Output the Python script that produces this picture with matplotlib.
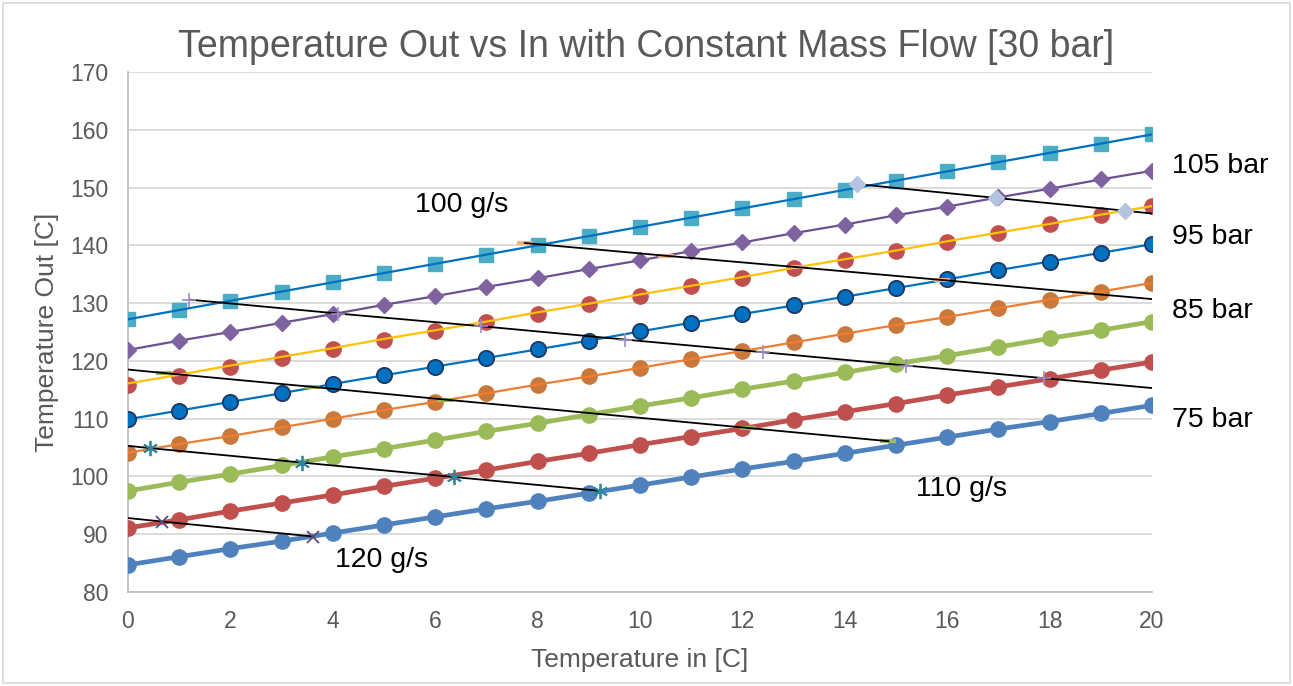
import numpy as np
import matplotlib.pyplot as plt
from matplotlib.patches import Rectangle

plt.rcParams['font.family'] = ['Liberation Sans', 'DejaVu Sans']

t_in = list(range(21))

# outlet temperature per pressure level
p75 = [84.7, 86.1, 87.5, 88.8, 90.2, 91.6, 93.0, 94.4, 95.7, 97.1, 98.5,
       99.9, 101.3, 102.6, 104.0, 105.4, 106.8, 108.2, 109.5, 110.9, 112.3]
p80 = [91.1, 92.5, 94.0, 95.4, 96.8, 98.3, 99.7, 101.1, 102.6, 104.0, 105.5,
       106.9, 108.3, 109.8, 111.2, 112.6, 114.1, 115.5, 116.9, 118.4, 119.8]
p85 = [97.5, 99.0, 100.4, 101.9, 103.4, 104.8, 106.3, 107.8, 109.2, 110.7, 112.2,
       113.6, 115.1, 116.5, 118.0, 119.5, 120.9, 122.4, 123.9, 125.3, 126.8]
p90 = [104.1, 105.6, 107.0, 108.5, 110.0, 111.5, 112.9, 114.4, 115.9, 117.3, 118.8,
       120.3, 121.7, 123.2, 124.7, 126.2, 127.6, 129.1, 130.6, 132.0, 133.5]
p95 = [109.9, 111.4, 112.9, 114.4, 116.0, 117.5, 119.0, 120.5, 122.0, 123.5, 125.1,
       126.6, 128.1, 129.6, 131.1, 132.6, 134.1, 135.7, 137.2, 138.7, 140.2]
p100 = [115.8, 117.4, 118.9, 120.5, 122.0, 123.6, 125.1, 126.7, 128.2, 129.8, 131.3,
        132.9, 134.4, 136.0, 137.5, 139.1, 140.6, 142.2, 143.7, 145.3, 146.8]
p100b = [116.1, 117.6, 119.2, 120.7, 122.2, 123.8, 125.3, 126.8, 128.4, 129.9, 131.5,
         133.0, 134.5, 136.1, 137.6, 139.1, 140.7, 142.2, 143.7, 145.3, 146.8]
p105 = [121.9, 123.5, 125.0, 126.6, 128.1, 129.7, 131.2, 132.8, 134.3, 135.9, 137.4,
        139.0, 140.5, 142.1, 143.6, 145.2, 146.7, 148.3, 149.8, 151.4, 152.9]
p110 = [127.2, 128.8, 130.4, 132.0, 133.6, 135.2, 136.8, 138.4, 140.0, 141.6, 143.2,
        144.8, 146.4, 148.0, 149.6, 151.2, 152.8, 154.4, 156.0, 157.6, 159.2]

# constant mass flow lines (x, y, which points carry a marker)
mA_x = [14.24, 16.96, 19.47, 20.0]
mA_y = [150.6, 148.2, 146.0, 145.5]
mB_x = [7.75, 10.5, 13.1, 15.9, 18.6, 20.0]
mB_y = [140.4, 138.2, 136.2, 134.0, 131.8, 130.7]
mC_x = [1.2, 4.1, 6.9, 9.7, 12.4, 15.2, 17.9, 20.0]
mC_y = [130.6, 128.2, 126.0, 123.7, 121.5, 119.2, 117.0, 115.3]
mD_x = [0.0, 0.7, 3.6, 6.2, 9.1, 12.1, 14.85]
mD_y = [118.5, 117.9, 115.5, 113.3, 110.9, 108.4, 106.1]
mE_x = [0.0, 0.43, 3.4, 6.37, 9.22]
mE_y = [105.3, 104.9, 102.4, 99.9, 97.5]
mF_x = [0.0, 0.66, 3.62]
mF_y = [92.8, 92.2, 89.6]

bar_labels = ['105 bar', '95 bar', '85 bar', '75 bar']
bar_label_y = [153.7, 141.4, 128.6, 109.8]
flow_labels = ['100 g/s', '110 g/s', '120 g/s']
flow_label_xy = [(5.6, 147.0), (15.4, 97.8), (4.05, 85.5)]

fig = plt.figure(figsize=(12.93, 6.86), dpi=100)
ax = fig.add_axes([128/1293, 94/686, 1024/1293, 520/686])

# thick series: markers on top of line
ax.plot(t_in, p75, color='#4F81BD', lw=3.4, marker='o', ms=11, mec='#4F81BD', zorder=3)
ax.plot(t_in, p80, color='#C0504D', lw=3.4, marker='o', ms=11, mec='#C0504D', zorder=3)
ax.plot(t_in, p85, color='#9BBB59', lw=3.4, marker='o', ms=11, mec='#9BBB59', zorder=3)

# orange: line drawn over the markers
ax.plot(t_in, p90, ls='none', marker='o', ms=11, mfc='#C8783A', mec='#C8783A', zorder=3)
ax.plot(t_in, p90, color='#ED7D31', lw=1.6, zorder=3.1)

ax.plot(t_in, p95, color='#0070C0', lw=1.6, marker='o', ms=11, mfc='#0070C0',
        mec='#1F3864', mew=1.3, zorder=3)

ax.plot(t_in, p100, ls='none', marker='o', ms=11, mfc='#C0504D', mec='#C0504D', zorder=3)
ax.plot(t_in, p100b, color='#FFC000', lw=1.6, zorder=3.1)

ax.plot(t_in, p105, color='#6A5090', lw=1.6, marker='D', ms=8.5, mfc='#7F63A1',
        mec='#7F63A1', zorder=3)

ax.plot(t_in, p110, ls='none', marker='s', ms=10.5, mfc='#4BACC6', mec='#4BACC6', zorder=3)
ax.plot(t_in, p110, color='#0070C0', lw=1.6, zorder=3.1)

# mass flow lines
ax.plot(mA_x, mA_y, color='black', lw=1.3, zorder=4)
ax.plot(mA_x[:3], mA_y[:3], ls='none', marker='D', ms=8.5, mfc='#B4C3DE', mec='#B4C3DE', zorder=4.1)
ax.plot(mB_x, mB_y, color='black', lw=1.3, zorder=4)
ax.plot(mB_x[:5], mB_y[:5], ls='none', marker='_', ms=11, mew=3, mec='#F4B183', zorder=3.9)
ax.plot(mC_x, mC_y, color='black', lw=1.3, zorder=4)
ax.plot(mC_x[:7], mC_y[:7], ls='none', marker='+', ms=10, mew=1.2, mec='#A08CC8', zorder=4.1)
ax.plot(mD_x, mD_y, color='black', lw=1.3, zorder=4)
ax.plot(mD_x[1:], mD_y[1:], ls='none', marker='_', ms=11, mew=3, mec='#9BBB59', zorder=3.9)
ax.plot(mE_x, mE_y, color='black', lw=1.3, zorder=4)
ax.plot(mE_x[1:], mE_y[1:], ls='none', marker=(6, 2, 0), ms=11, mew=1.3, mec='#31859C', zorder=4.1)
ax.plot(mF_x, mF_y, color='black', lw=1.3, zorder=4)
ax.plot(mF_x[1:], mF_y[1:], ls='none', marker='x', ms=8, mew=1.3, mec='#604A7B', zorder=4.1)

for lab, y in zip(bar_labels, bar_label_y):
    ax.text(20.4, y, lab, fontsize=20.5, va='center', ha='left', clip_on=False)
for lab, (x, y) in zip(flow_labels, flow_label_xy):
    ax.text(x, y, lab, fontsize=20.5, va='center', ha='left')

ax.set_xlim(0, 20)
ax.set_ylim(80, 170)
ax.set_xticks(range(0, 21, 2))
ax.set_yticks(range(80, 171, 10))
ax.grid(axis='y', color='#D9D9D9', lw=1.3)
ax.set_axisbelow(True)
for s in ['top', 'right']:
    ax.spines[s].set_visible(False)
for s in ['left', 'bottom']:
    ax.spines[s].set_color('#BFBFBF')
    ax.spines[s].set_linewidth(1.3)
ax.tick_params(length=0, labelsize=16.5, labelcolor='#595959')
ax.tick_params(axis='y', pad=14)
ax.tick_params(axis='x', pad=13)

ax.set_xlabel('Temperature in [C]', fontsize=19, color='#595959', labelpad=11)
ax.set_ylabel('Temperature Out [C]', fontsize=19, color='#595959', labelpad=8)

fig.text(0.5, 1 - 47/686, 'Temperature Out vs In with Constant Mass Flow [30 bar]',
         fontsize=27, color='#595959', ha='center', va='center')

fig.patches.append(Rectangle((3/1293, 3/686), 1287/1293, 680/686, transform=fig.transFigure,
                             fill=False, edgecolor='#D9D9D9', lw=1.2))

fig.savefig('out.png', dpi=100)
